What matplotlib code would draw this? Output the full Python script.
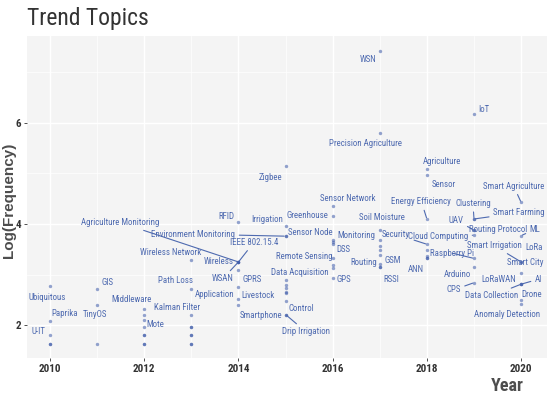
import matplotlib
matplotlib.use("Agg")
import matplotlib.pyplot as plt
from matplotlib import font_manager

# ---------------- data ----------------
years = [2010, 2010, 2010, 2010, 2010,
         2011, 2011, 2011,
         2012, 2012, 2012, 2012, 2012, 2012, 2012, 2012,
         2013, 2013, 2013, 2013, 2013, 2013, 2013, 2013, 2013,
         2014, 2014, 2014, 2014, 2014, 2014, 2014, 2014, 2014,
         2015, 2015, 2015, 2015, 2015, 2015, 2015, 2015, 2015, 2015, 2015, 2015,
         2016, 2016, 2016, 2016, 2016, 2016, 2016, 2016, 2016,
         2017, 2017, 2017, 2017, 2017, 2017, 2017, 2017, 2017, 2017,
         2018, 2018, 2018, 2018, 2018, 2018, 2018, 2018,
         2019, 2019, 2019, 2019, 2019, 2019, 2019, 2019, 2019,
         2020, 2020, 2020, 2020, 2020, 2020, 2020, 2020, 2020, 2020]
log_freq = [2.78, 2.08, 1.80, 1.62, 1.62,
            2.72, 2.40, 1.62,
            2.31, 2.20, 2.10, 1.96, 1.80, 1.80, 1.62, 1.62,
            3.29, 2.72, 2.20, 1.96, 1.96, 1.80, 1.80, 1.62, 1.62,
            4.04, 3.25, 3.25, 3.25, 3.25, 3.10, 2.75, 2.51, 2.40,
            5.15, 3.97, 3.76, 3.76, 2.89, 2.79, 2.73, 2.66, 2.63, 2.48, 2.21, 2.21,
            4.36, 4.16, 3.68, 3.64, 3.60, 3.33, 3.19, 3.14, 2.94,
            7.43, 5.81, 3.88, 3.68, 3.56, 3.49, 3.39, 3.20, 3.15, 3.15,
            5.09, 4.97, 4.10, 3.60, 3.49, 3.37, 3.32, 3.32,
            6.18, 4.10, 4.10, 3.88, 3.88, 3.78, 3.32, 3.15, 2.84,
            4.43, 3.77, 3.25, 3.25, 3.04, 2.81, 2.81, 2.81, 2.50, 2.41]
topics = ["Ubiquitous", "Paprika", "U-IT", "", "",
          "GIS", "TinyOS", "",
          "Middleware", "", "Mote", "", "", "", "", "",
          "Wireless Network", "Path Loss", "Kalman Filter", "", "", "", "", "", "",
          "RFID", "Wireless", "Agriculture Monitoring", "IEEE 802.15.4", "WSAN", "GPRS", "Application", "Livestock", "",
          "Zigbee", "Irrigation", "Sensor Node", "Environment Monitoring", "Data Acquisition", "", "", "", "", "Control", "Smartphone", "Drip Irrigation",
          "Sensor Network", "Greenhouse", "Monitoring", "", "DSS", "Remote Sensing", "", "", "GPS",
          "WSN", "Precision Agriculture", "Soil Moisture", "", "", "", "", "Routing", "GSM", "RSSI",
          "Agriculture", "Sensor", "Energy Efficiency", "Security", "", "", "ANN", "",
          "IoT", "Clustering", "Smart Farming", "UAV", "Routing Protocol", "Cloud Computing", "Raspberry Pi", "Arduino", "CPS",
          "Smart Agriculture", "ML", "Smart Irrigation", "LoRa", "Smart City", "LoRaWAN", "AI", "Data Collection", "Drone", "Anomaly Detection"]

# label placement (repel-style offsets, pixels) and whether a leader line is drawn
label_dx = [-3, 15, -11.5, 0, 0,
            10, -2, 0,
            -13, 0, 11.5, 0, 0, 0, 0, 0,
            -21, -15.5, -14.5, 0, 0, 0, 0, 0, 0,
            -12.5, -19.5, -118, 15.5, -16, 13.5, -23.5, 19.5, 0,
            -15, -18.5, 25, -92.5, 14, 0, 0, 0, 0, 15.5, -24.5, 20.5,
            15, -25, 23.5, 0, 11, -28.5, 0, 0, 11.5,
            -12, -14.5, 2.5, 0, 0, 0, 0, -16.5, 12.5, 12,
            15.5, 16.5, -5.5, -31, 0, 0, -11.5, 0,
            10, -1, 45, -18, 24, -36, -22, -17, -20.5,
            -7.5, 14, -27, 12.5, 4.5, -22, 17.5, -29.5, 11, -14.5]
label_dy = [-11.3, 7.3, 3.3, 0, 0,
            6.7, -10, 0,
            10.3, 0, -4, 0, 0, 0, 0, 0,
            7.7, 8.7, 7.7, 0, 0, 0, 0, 0, 0,
            6, 0, 39.3, 19.7, -17, -9.7, -7.7, 3.6, 0,
            -11.7, 6.4, 3.3, 2, 7.7, 0, 0, 0, 0, -7.6, -0.7, -17.4,
            7, 0, 5, 0, -5.3, 1.6, 0, 0, -1.7,
            -9.3, -11.3, 12.3, 0, 0, 0, 0, 1.6, 6.7, -12.3,
            7.3, -9.3, 17.3, 10, 0, 0, -11, 0,
            4, 15.7, 6.3, 10, 1, -1.7, 5.3, -7.3, -7.3,
            16.3, 6.4, 16.3, 14.7, 9.6, 5, 5, -11.7, 5, -10]
leader = ["Agriculture Monitoring", "IEEE 802.15.4", "WSAN", "Environment Monitoring",
          "Drip Irrigation", "Energy Efficiency", "Security", "Clustering", "Smart Farming",
          "UAV", "Cloud Computing", "Raspberry Pi", "CPS", "Smart Agriculture", "ML",
          "Smart Irrigation", "AI", "Data Collection"]

x_ticks = [2010, 2012, 2014, 2016, 2018, 2020]
y_ticks = [2, 4, 6]

# ---------------- style ----------------
avail = {f.name for f in font_manager.fontManager.ttflist}
narrow = None
for cand in ["Roboto Condensed", "Liberation Sans Narrow", "Open Sans Condensed", "DejaVu Sans Condensed"]:
    if cand in avail:
        narrow = cand
        break
if narrow is None:
    narrow = "Liberation Sans"
plt.rcParams['font.family'] = [narrow, 'DejaVu Sans']

TXT = '#4E6AB0'
PT = '#3A58A8'

fig = plt.figure(figsize=(5.5, 3.97), dpi=100)
ax = fig.add_axes([27/550, 1-358/397, 520/550, 322/397])
ax.set_facecolor('#F4F4F4')
ax.set_xlim(2009.51, 2020.55)
ax.set_ylim(1.35, 7.72)

ax.set_xticks(x_ticks)
ax.set_xticks([2011, 2013, 2015, 2017, 2019], minor=True)
ax.set_yticks(y_ticks)
ax.set_yticks([3, 5, 7], minor=True)
ax.grid(which='major', color='white', lw=1.0)
ax.grid(which='minor', color='white', lw=0.5)
ax.set_axisbelow(True)
for s in ax.spines.values():
    s.set_visible(False)
ax.tick_params(which='major', length=2.5, width=0.6, color='#333333',
               labelsize=8, labelcolor='#333333', pad=2)
ax.tick_params(which='minor', length=0)
for lab in ax.get_xticklabels() + ax.get_yticklabels():
    lab.set_fontweight('bold')

ax.scatter(years, log_freq, s=6, color=PT, alpha=0.55, lw=0, zorder=3)

for x, y, t, dx, dy in zip(years, log_freq, topics, label_dx, label_dy):
    if not t:
        continue
    kw = {}
    if t in leader:
        kw['arrowprops'] = dict(arrowstyle='-', color=TXT, lw=0.8, shrinkA=1, shrinkB=1)
    ax.annotate(t, xy=(x, y), xytext=(dx, dy), textcoords='offset pixels',
                ha='center', va='center', fontsize=6.4, color=TXT, zorder=4, **kw)

fig.text(27/550, 1-18/397, 'Trend Topics', fontsize=17, color='#333333',
         ha='left', va='center')
fig.text(9/550, 1-200/397, 'Log(Frequency)', fontsize=11, fontweight='bold',
         color='#4D4D4D', rotation=90, ha='center', va='center',
         family=['Liberation Sans', 'DejaVu Sans'])
fig.text(524/550, 1-386/397, 'Year', fontsize=13, fontweight='bold',
         color='#4D4D4D', ha='right', va='center')

fig.savefig('out.png', dpi=100)
